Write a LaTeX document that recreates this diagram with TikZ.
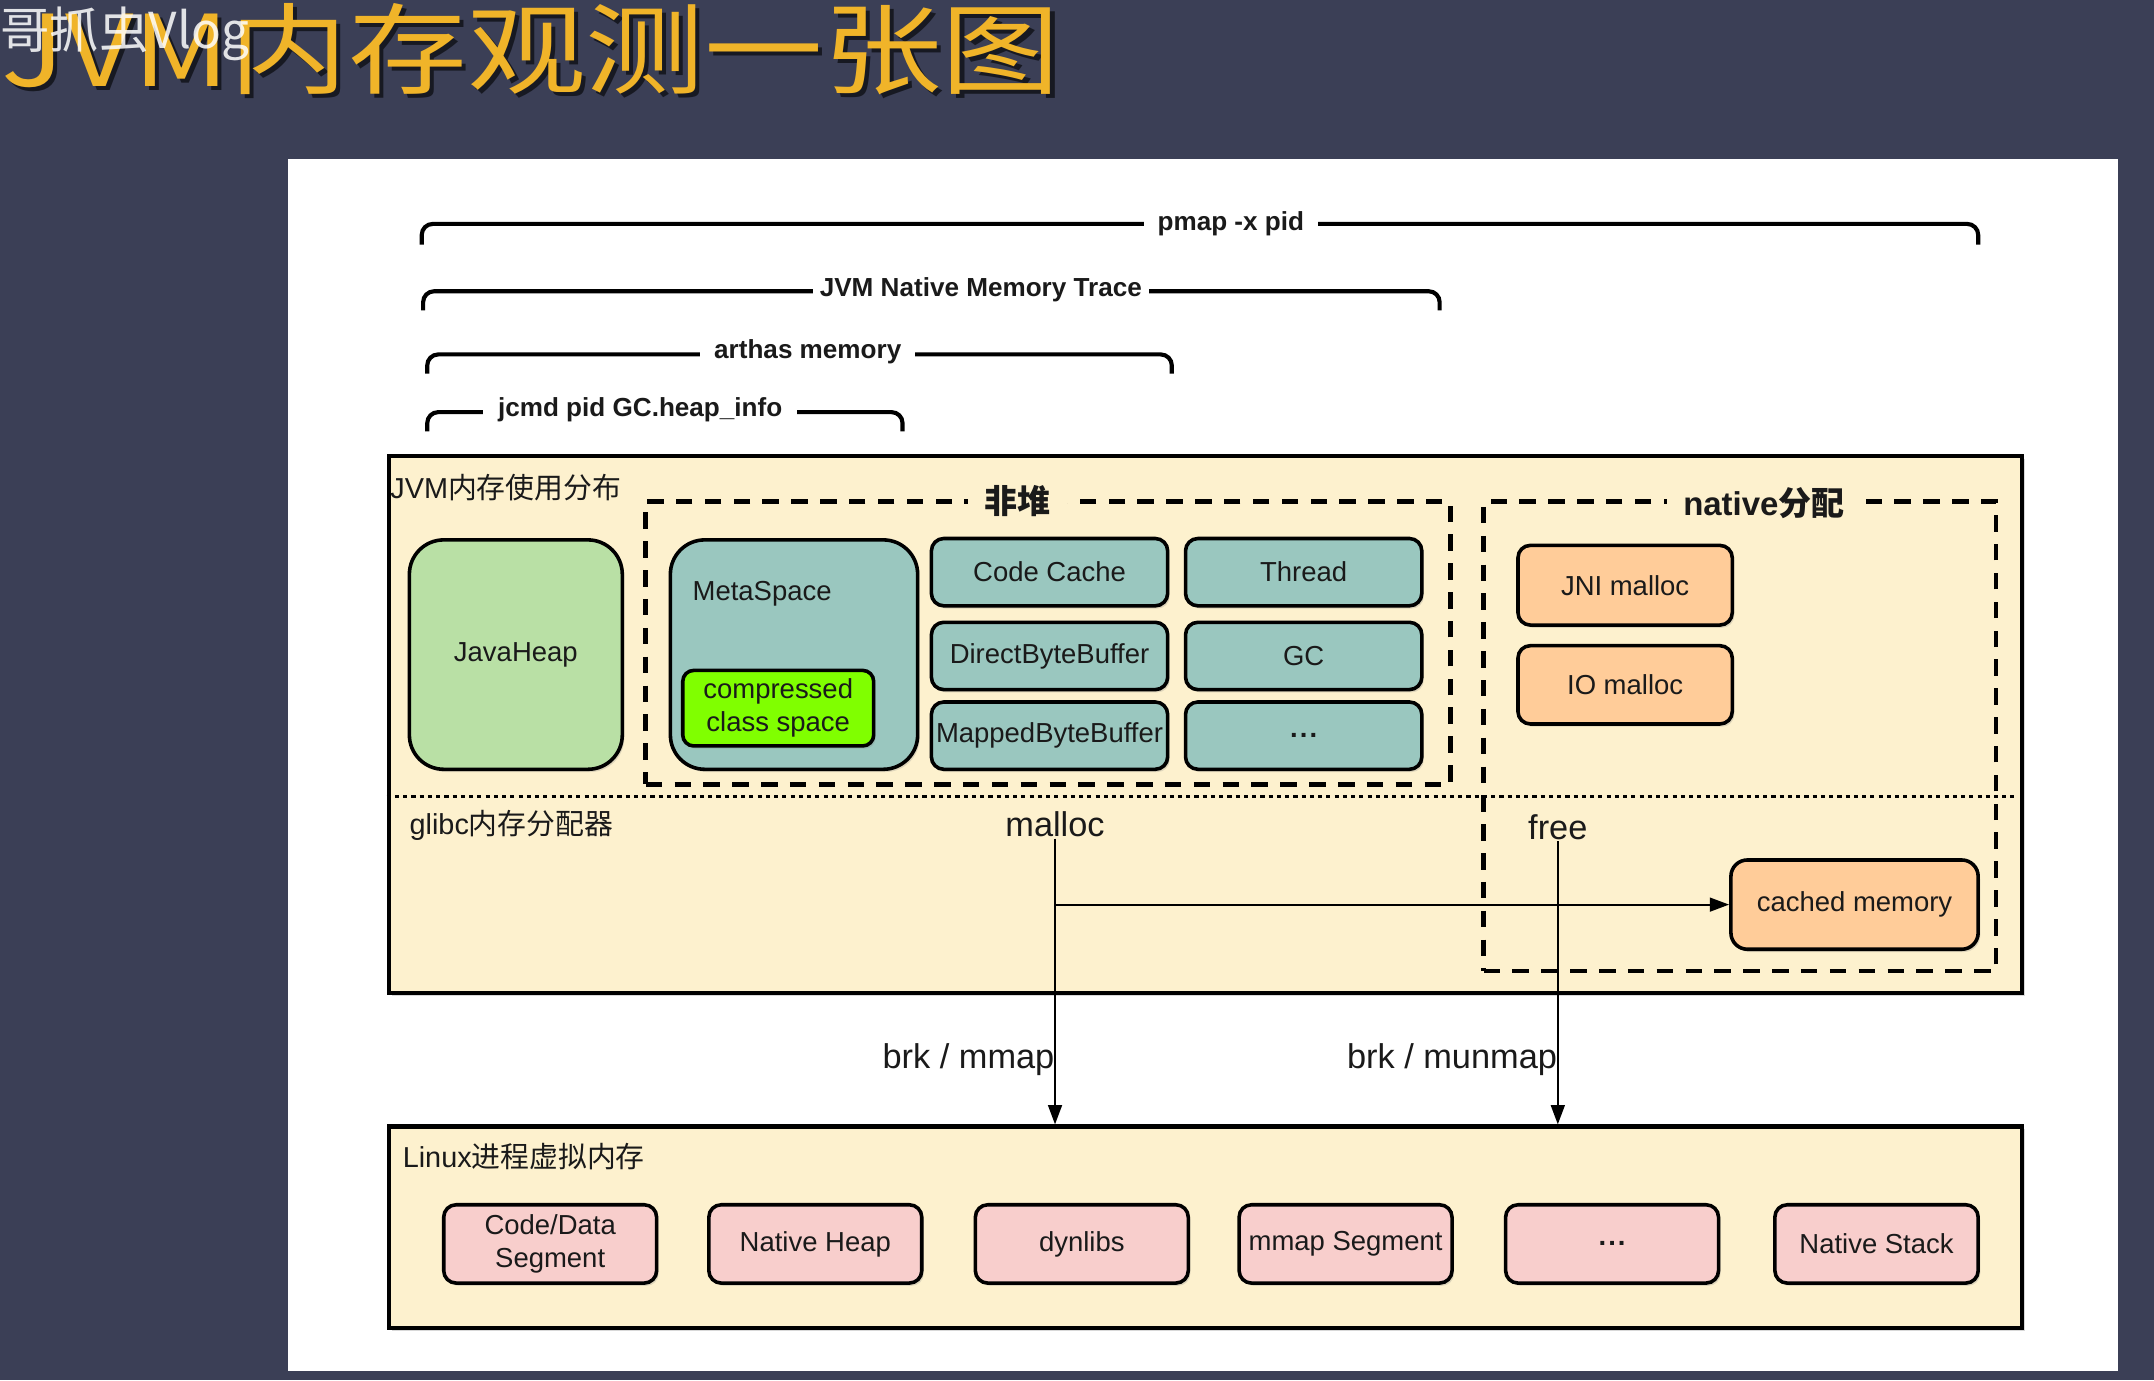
\documentclass[tikz,border=0pt]{standalone}
\usepackage{fontspec}
\setmainfont{Liberation Sans}
\newfontfamily\cjk{Noto Sans CJK SC}
\usetikzlibrary{arrows.meta,shadows}
\definecolor{bgdark}{HTML}{3B3F56}
\definecolor{cream}{HTML}{FDF1CE}
\definecolor{heapgreen}{HTML}{B9E0A5}
\definecolor{tealbox}{HTML}{9AC7BF}
\definecolor{limebox}{HTML}{80FF00}
\definecolor{peach}{HTML}{FFCC99}
\definecolor{pinkbox}{HTML}{F8CECC}
\definecolor{titleyellow}{HTML}{F0B429}
\definecolor{inktext}{HTML}{1A1A1A}
\newcommand{\mydots}{\textbf{.\kern1.5pt.\kern1.5pt.}}
\begin{document}
\begin{tikzpicture}[x=1pt,y=-1pt,
  every node/.style={text=inktext},
  box/.style={draw=black, line width=2.6pt, rounded corners=9pt, inner sep=0pt,
    font=\fontsize{20}{24}\selectfont, align=center,
    drop shadow={opacity=0.25,shadow xshift=1.5pt,shadow yshift=-2pt}},
  bigbox/.style={draw=black, line width=3pt, fill=cream, inner sep=0pt,
    drop shadow={opacity=0.3,shadow xshift=2pt,shadow yshift=-2pt}},
  dashbox/.style={draw=black, line width=3.2pt, dash pattern=on 12pt off 9pt, inner sep=0pt},
  bracket/.style={draw=black, line width=3pt, rounded corners=8pt},
  brlabel/.style={fill=white, inner ysep=2pt, font=\bfseries\fontsize{19}{22}\selectfont},
  grouplabel/.style={anchor=west, inner sep=0pt, font=\fontsize{21}{25}\selectfont},
  flowlabel/.style={inner sep=1pt, font=\fontsize{25}{30}\selectfont},
  arrowline/.style={draw=black, line width=1.6pt, -{Triangle[length=14pt,width=10pt]}},
  plainline/.style={draw=black, line width=1.6pt}
]
\useasboundingbox (0,0) rectangle (1568,1004.6);
\fill[bgdark] (0,0) rectangle (1568,1004.6);
\fill[white] (210,116) rectangle (1542,998);

% title
\node[anchor=west, inner sep=0pt, font=\cjk\fontsize{72}{80}\selectfont, text=black, opacity=0.6] (titleshadow) at (4,39) {\scalebox{1.2}[1]{JVM内存观测一张图}};
\node[anchor=west, inner sep=0pt, font=\cjk\fontsize{72}{80}\selectfont, text=titleyellow] (title) at (1,36) {\scalebox{1.2}[1]{JVM内存观测一张图}};
\node[anchor=west, inner sep=0pt, font=\cjk\fontsize{36}{40}\selectfont, text=white, opacity=0.85] (wm) at (0,25) {哥抓虫Vlog};

% brackets
\draw[bracket] (307,178) |- (896,163) -| (1440,178);
\node[brlabel, inner xsep=10pt] (pmap) at (896,163) {pmap -x pid};
\draw[bracket] (308,226) |- (714,212) -| (1048,226);
\node[brlabel, inner xsep=5pt] (nmt) at (714,211) {JVM Native Memory Trace};
\draw[bracket] (311,272) |- (588,258) -| (853,272);
\node[brlabel, inner xsep=10pt] (arthas) at (588,256) {arthas memory};
\draw[bracket] (311,314) |- (466,300) -| (657,314);
\node[brlabel, inner xsep=11pt] (jcmd) at (466,298) {jcmd pid GC.heap\_info};

% JVM box
\node[bigbox, minimum width=1189pt, minimum height=391pt] (jvm) at (877.5,527.5) {};
\node[grouplabel] (jvmlabel) at (284,355) {JVM{\cjk 内存使用分布}};
\draw[black, line width=2.2pt, dash pattern=on 3pt off 3pt] (jvm.west |- 0,580) -- (1466,580);
\node[grouplabel] (glibc) at (298,601) {glibc{\cjk 内存分配器}};

% non-heap group
\node[dashbox, minimum width=586pt, minimum height=206pt] (nonheap) at (763,468) {};
\node[fill=cream, inner xsep=12pt, inner ysep=2pt, font=\cjk\bfseries\fontsize{24}{28}\selectfont] (nonheaplabel) at (741,365) {非堆};

% native group
\node[dashbox, minimum width=373pt, minimum height=342pt] (native) at (1266.5,536) {};
\node[fill=cream, inner xsep=12pt, inner ysep=2pt, font=\bfseries\fontsize{24}{28}\selectfont] (nativelabel) at (1284,366) {native{\cjk 分配}};

% heap and non-heap members
\node[box, fill=heapgreen, rounded corners=25pt, minimum width=155pt, minimum height=167pt] (javaheap) at (375.5,476.5) {JavaHeap};
\node[box, fill=tealbox, rounded corners=25pt, minimum width=180pt, minimum height=167pt] (meta) at (578,476.5) {};
\node[anchor=west, inner sep=0pt, font=\fontsize{20}{24}\selectfont] (metalabel) at (504,432) {MetaSpace};
\node[box, fill=limebox, rounded corners=8pt, minimum width=139pt, minimum height=55pt] (ccs) at (566.5,515.5) {compressed\\class space};
\node[box, fill=tealbox, minimum width=172pt, minimum height=49pt] (codecache) at (764,416.5) {Code Cache};
\node[box, fill=tealbox, minimum width=172pt, minimum height=49pt] (thread) at (949,416.5) {Thread};
\node[box, fill=tealbox, minimum width=172pt, minimum height=49pt] (dbb) at (764,477.5) {DirectByteBuffer};
\node[box, fill=tealbox, minimum width=172pt, minimum height=49pt] (gc) at (949,477.5) {GC};
\node[box, fill=tealbox, minimum width=172pt, minimum height=49pt] (mbb) at (764,535.5) {MappedByteBuffer};
\node[box, fill=tealbox, minimum width=172pt, minimum height=49pt] (etc1) at (949,535.5) {\mydots};

% native members
\node[box, fill=peach, minimum width=156pt, minimum height=58pt] (jni) at (1183,426) {JNI malloc};
\node[box, fill=peach, minimum width=156pt, minimum height=57pt] (io) at (1183,498.5) {IO malloc};
\node[box, fill=peach, rounded corners=12pt, minimum width=180pt, minimum height=65pt] (cached) at (1350,658.5) {cached memory};

% Linux box
\node[bigbox, minimum width=1189pt, minimum height=147pt] (linux) at (877.5,893.5) {};
\node[grouplabel] (linuxlabel) at (293,842) {Linux{\cjk 进程虚拟内存}};
\node[box, fill=pinkbox, minimum width=155pt, minimum height=57pt] (seg) at (400.5,905.5) {Code/Data\\Segment};
\node[box, fill=pinkbox, minimum width=155pt, minimum height=57pt] (nheap) at (593.5,905.5) {Native Heap};
\node[box, fill=pinkbox, minimum width=155pt, minimum height=57pt] (dyn) at (787.5,905.5) {dynlibs};
\node[box, fill=pinkbox, minimum width=155pt, minimum height=57pt] (mmapseg) at (979.5,905.5) {mmap Segment};
\node[box, fill=pinkbox, minimum width=155pt, minimum height=57pt] (etc2) at (1173.5,905.5) {\mydots};
\node[box, fill=pinkbox, minimum width=148pt, minimum height=57pt] (nstack) at (1366,905.5) {Native Stack};

% flows
\node[flowlabel] (malloc) at (768,600) {malloc};
\node[flowlabel] (free) at (1134,602) {free};
\draw[arrowline] (malloc.south) -- (malloc.south |- linux.north);
\draw[arrowline] (malloc.south |- cached.west) -- (cached.west);
\draw[arrowline] (free.south) -- (free.south |- linux.north);
\node[flowlabel] (brkmmap) at (705,771) {brk / mmap};
\node[flowlabel] (brkmunmap) at (1057,771) {brk / munmap};
\end{tikzpicture}
\end{document}
